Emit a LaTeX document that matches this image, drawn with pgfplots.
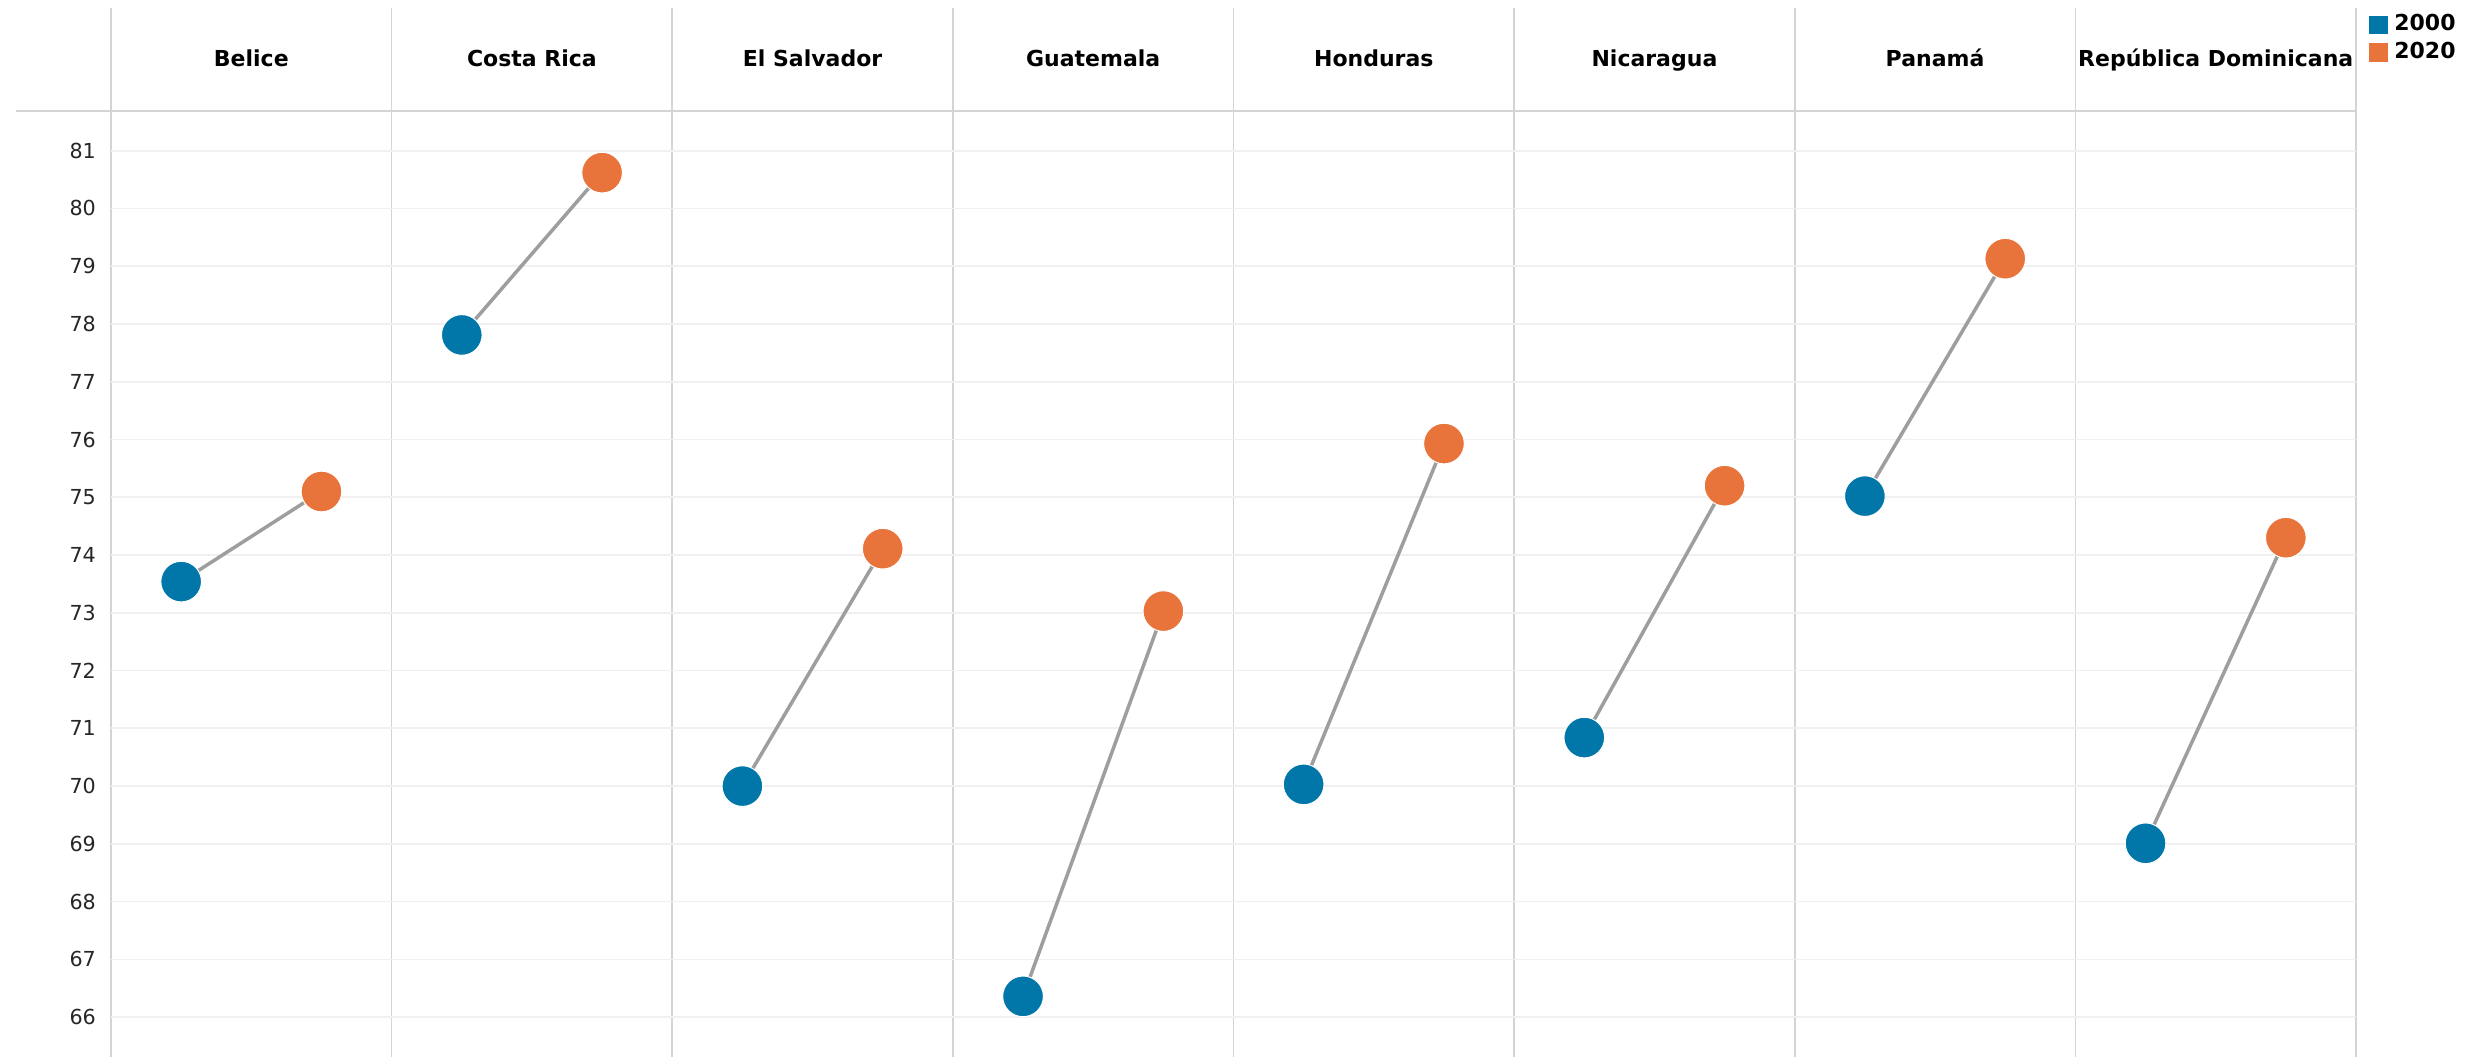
\documentclass[border=0pt]{standalone}
\usepackage{pgfplots}
\pgfplotsset{compat=1.18}
\usepackage{fontspec}
\setmainfont{DejaVu Sans}
\definecolor{cblue}{HTML}{0077A8}
\definecolor{corange}{HTML}{E8743B}
\definecolor{cline}{HTML}{9E9E9E}
\definecolor{cvgrid}{HTML}{D4D4D4}
\definecolor{chgrid}{HTML}{F0F0F0}
\tikzset{hnode/.style={font=\fontsize{6.6}{8}\selectfont\bfseries, text=black, anchor=base}}
\begin{document}
\begin{tikzpicture}
\useasboundingbox (-33.3pt,0pt) rectangle (711.9pt,317.1pt);
\begin{axis}[
  at={(0,0)}, anchor=south west,
  scale only axis, width=673.5pt, height=314.7pt,
  xmin=0, xmax=8, ymin=65.31, ymax=83.47,
  clip=false,
  axis line style={draw=none},
  xtick={0,1,2,3,4,5,6,7,8}, xticklabels={},
  ytick={66,67,...,81},
  major tick length=0pt,
  xmajorgrids, ymajorgrids,
  x grid style={cvgrid, line width=0.5pt},
  y grid style={chgrid, line width=0.5pt},
  /pgf/number format/assume math mode=true,
  yticklabel style={font=\fontsize{6.2}{7}\selectfont, text=black!85, xshift=-1pt},
  legend style={at={(1.004,1.004)}, anchor=north west, draw=none, fill=none,
    font=\fontsize{6.6}{7.5}\selectfont\bfseries, row sep=-2.2pt,
    inner sep=1pt},
  legend cell align=left,
  legend image code/.code={\node[draw=none,fill,inner sep=0pt,minimum size=5.6pt] at (0.1cm,0) {};},
]
\addlegendimage{cblue, fill=cblue}
\addlegendentry{2000}
\addlegendimage{corange, fill=corange}
\addlegendentry{2020}

\pgfplotsset{cl/.style={cline, line width=1.05pt, forget plot}}
\addplot[cl] coordinates {(0.25,73.54) (0.75,75.10)};
\addplot[cl] coordinates {(1.25,77.81) (1.75,80.62)};
\addplot[cl] coordinates {(2.25,70.00) (2.75,74.11)};
\addplot[cl] coordinates {(3.25,66.36) (3.75,73.03)};
\addplot[cl] coordinates {(4.25,70.03) (4.75,75.93)};
\addplot[cl] coordinates {(5.25,70.84) (5.75,75.20)};
\addplot[cl] coordinates {(6.25,75.02) (6.75,79.13)};
\addplot[cl] coordinates {(7.25,69.01) (7.75,74.30)};

\addplot[only marks, mark=*, mark size=6.1pt, mark options={fill=cblue, draw=white, line width=0.3pt}, forget plot]
  coordinates {(0.25,73.54) (1.25,77.81) (2.25,70.00) (3.25,66.36) (4.25,70.03) (5.25,70.84) (6.25,75.02) (7.25,69.01)};
\addplot[only marks, mark=*, mark size=6.1pt, mark options={fill=corange, draw=white, line width=0.3pt}, forget plot]
  coordinates {(0.75,75.10) (1.75,80.62) (2.75,74.11) (3.75,73.03) (4.75,75.93) (5.75,75.20) (6.75,79.13) (7.75,74.30)};

\draw[cvgrid, line width=0.6pt] (axis cs:-0.34,81.69) -- (axis cs:8,81.69);
\node[hnode] at (axis cs:0.5,82.46) {Belice};
\node[hnode] at (axis cs:1.5,82.46) {Costa Rica};
\node[hnode] at (axis cs:2.5,82.46) {El Salvador};
\node[hnode] at (axis cs:3.5,82.46) {Guatemala};
\node[hnode] at (axis cs:4.5,82.46) {Honduras};
\node[hnode] at (axis cs:5.5,82.46) {Nicaragua};
\node[hnode] at (axis cs:6.5,82.46) {Panamá};
\node[hnode] at (axis cs:7.5,82.46) {República Dominicana};
\end{axis}
\end{tikzpicture}
\end{document}
